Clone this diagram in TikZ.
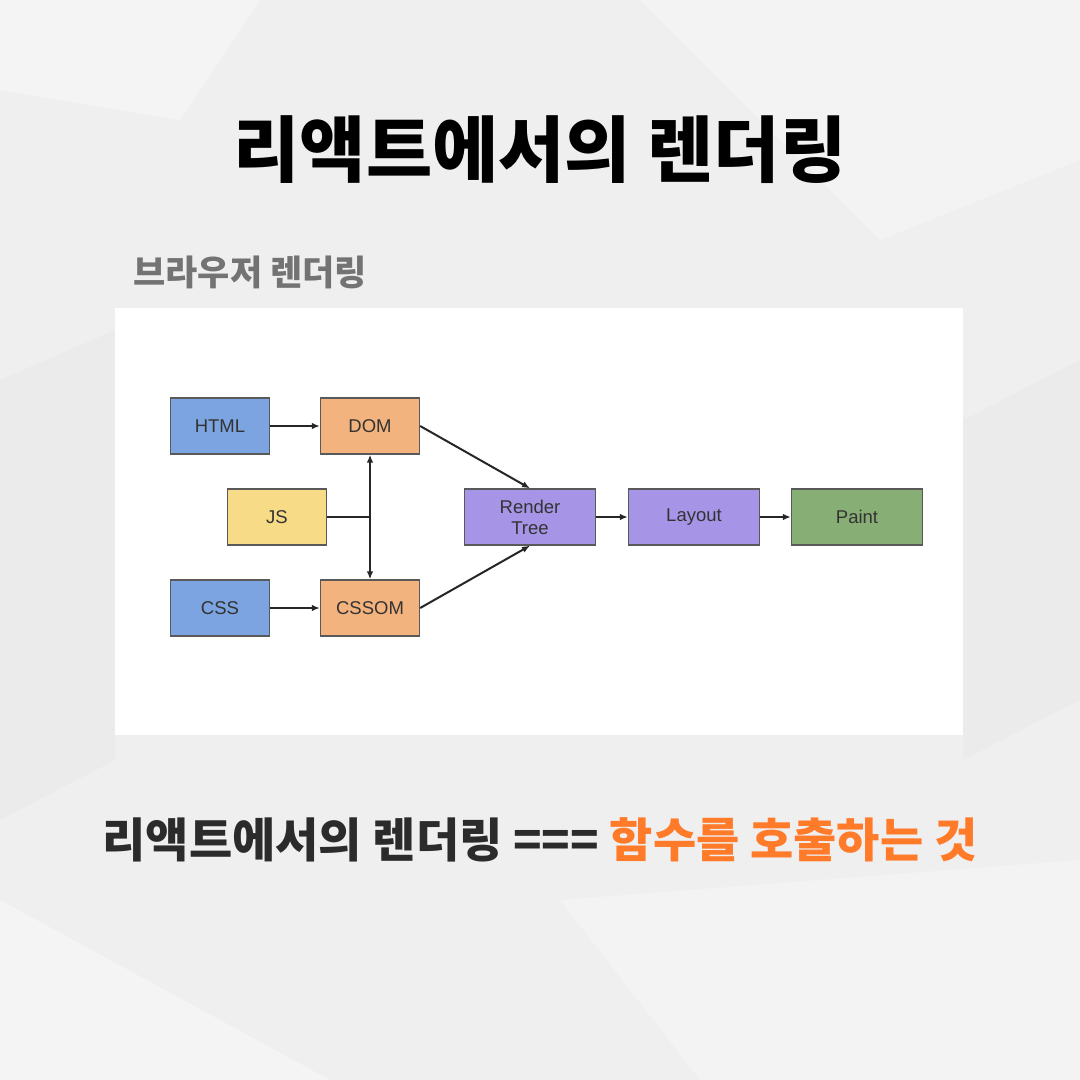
\documentclass[tikz,border=0pt]{standalone}
\usepackage{fontspec}
\setmainfont{Liberation Sans}
\newfontfamily\cjk{Noto Sans CJK KR}
\usetikzlibrary{arrows.meta}
\definecolor{paper}{HTML}{EFEFEF}
\definecolor{srcblue}{HTML}{7BA4E0}
\definecolor{objorange}{HTML}{F3B37E}
\definecolor{jsyellow}{HTML}{F8DB86}
\definecolor{treepurple}{HTML}{A694E6}
\definecolor{paintgreen}{HTML}{87AE75}
\definecolor{callorange}{HTML}{FF7A29}
\definecolor{inkdark}{HTML}{2B2B2B}

\begin{document}
\begin{tikzpicture}[x=1pt, y=-1pt,
    box/.style={draw=black!65, line width=1.3pt, minimum width=99pt, minimum height=56pt,
        inner sep=0pt, align=center, text=black!80, font=\fontsize{18.5}{21}\selectfont},
    wide/.style={box, minimum width=131pt},
    tip/.style={-{Latex[length=8pt,width=6.5pt]}},
    link/.style={line width=2pt, black!85, tip}]
    \useasboundingbox (0,0) rectangle (1080,1080);
    \fill[paper] (0,0) rectangle (1080,1080);
    % crumpled paper
    \fill[white, opacity=0.35] (0,0) -- (260,0) -- (180,120) -- (0,90) -- cycle;
    \fill[white, opacity=0.3] (640,0) -- (1080,0) -- (1080,160) -- (880,240) -- cycle;
    \fill[black, opacity=0.015] (0,380) -- (115,330) -- (115,760) -- (0,820) -- cycle;
    \fill[white, opacity=0.35] (0,900) -- (330,1080) -- (0,1080) -- cycle;
    \fill[black, opacity=0.015] (963,420) -- (1080,360) -- (1080,700) -- (963,760) -- cycle;
    \fill[white, opacity=0.3] (560,900) -- (1080,860) -- (1080,1080) -- (700,1080) -- cycle;
    \fill[white] (115,308) rectangle (963,735);
    % headings
    \node[font=\cjk\bfseries\fontsize{72}{76}\selectfont, text=black] (title) at (540,150) {리액트에서의 렌더링};
    \node[anchor=west, font=\cjk\bfseries\fontsize{35}{38}\selectfont, text=black!55] (sub) at (130,272) {브라우저 렌더링};
    % browser pipeline
    \node[box, fill=srcblue] (html) at (220,426) {HTML};
    \node[box, fill=objorange] (dom) at (370,426) {DOM};
    \node[box, fill=jsyellow] (js) at (277,517) {JS};
    \node[box, fill=srcblue] (css) at (220,608) {CSS};
    \node[box, fill=objorange] (cssom) at (370,608) {CSSOM};
    \node[wide, fill=treepurple] (tree) at (530,517) {Render\\Tree};
    \node[wide, fill=treepurple] (layout) at (694,517) {Layout};
    \node[wide, fill=paintgreen] (paint) at (857,517) {Paint};
    \draw[link] (html) -- (dom);
    \draw[link] (css) -- (cssom);
    \draw[link, {Latex[length=8pt,width=6.5pt]}-{Latex[length=8pt,width=6.5pt]}] (dom.south) -- (cssom.north);
    \draw[line width=2pt, black!85] (js.east) -- (js.east -| dom.south);
    \draw[link] (dom.east) -- (tree.north);
    \draw[link] (cssom.east) -- (tree.south);
    \draw[link] (tree) -- (layout);
    \draw[link] (layout) -- (paint);
    % summary line
    \node[font=\cjk\bfseries\fontsize{47}{52}\selectfont, text=inkdark] (sum) at (540,840)
        {리액트에서의 렌더링 === \textcolor{callorange}{함수를 호출하는 것}};
\end{tikzpicture}
\end{document}
